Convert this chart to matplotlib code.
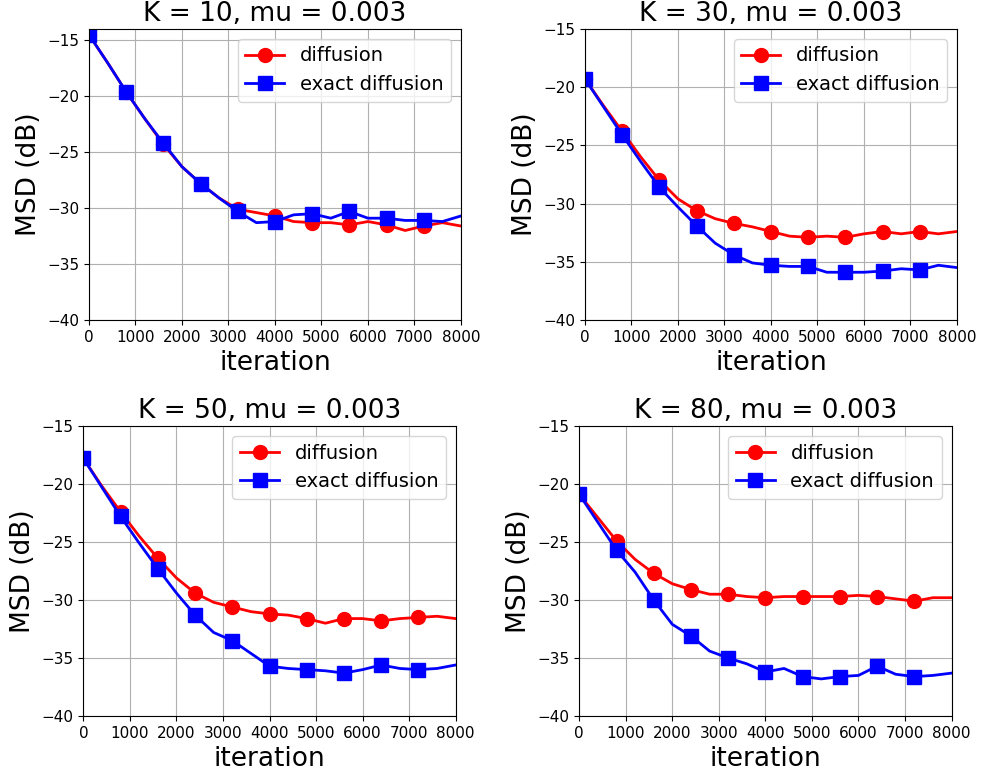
import numpy as np
import matplotlib
matplotlib.use("Agg")
import matplotlib.pyplot as plt

# iteration grid (markers every 800 iterations, last one at 7200)
iters = np.arange(0, 8001, 400)
mark_idx = list(range(0, 19, 2))

titles = ["K = 10, mu = 0.003", "K = 30, mu = 0.003",
          "K = 50, mu = 0.003", "K = 80, mu = 0.003"]

# ----- MSD (dB) -----
diff_k10 = [-14.5, -17.0, -19.6, -22.0, -24.3, -26.3, -27.8, -29.1, -30.1, -30.4,
            -30.7, -31.2, -31.3, -31.3, -31.5, -31.2, -31.5, -32.0, -31.6, -31.3, -31.6]
exact_k10 = [-14.5, -17.0, -19.6, -22.0, -24.2, -26.3, -27.8, -29.1, -30.3, -31.3,
             -31.2, -30.6, -30.5, -30.9, -30.3, -30.9, -30.9, -31.1, -31.1, -31.2, -30.7]

diff_k30 = [-19.3, -21.6, -23.8, -26.0, -28.0, -29.6, -30.6, -31.3, -31.7, -32.0,
            -32.4, -32.8, -32.9, -32.8, -32.9, -32.6, -32.4, -32.6, -32.4, -32.6, -32.4]
exact_k30 = [-19.3, -21.7, -24.1, -26.4, -28.6, -30.3, -31.9, -33.4, -34.4, -35.1,
             -35.3, -35.4, -35.4, -35.9, -35.9, -35.9, -35.8, -35.6, -35.7, -35.3, -35.5]

diff_k50 = [-17.8, -20.2, -22.4, -24.5, -26.4, -28.1, -29.4, -30.2, -30.6, -31.0,
            -31.2, -31.3, -31.6, -32.0, -31.6, -31.6, -31.8, -31.6, -31.5, -31.4, -31.6]
exact_k50 = [-17.8, -20.3, -22.8, -25.1, -27.3, -29.4, -31.3, -32.8, -33.5, -34.6,
             -35.7, -35.9, -36.0, -36.1, -36.3, -36.0, -35.6, -35.9, -36.0, -35.9, -35.6]

diff_k80 = [-20.9, -22.9, -24.9, -26.5, -27.7, -28.6, -29.1, -29.5, -29.5, -29.7,
            -29.8, -29.7, -29.7, -29.7, -29.7, -29.6, -29.7, -29.9, -30.1, -29.8, -29.8]
exact_k80 = [-20.9, -23.3, -25.7, -27.6, -30.0, -32.1, -33.1, -34.4, -35.0, -35.5,
             -36.2, -35.9, -36.6, -36.8, -36.6, -36.5, -35.7, -36.4, -36.6, -36.5, -36.3]

series = [(diff_k10, exact_k10), (diff_k30, exact_k30),
          (diff_k50, exact_k50), (diff_k80, exact_k80)]
ytops = [-13.98, -15, -15, -15]

# axes boxes in figure fractions (left, bottom, width, height)
boxes = [(0.0907, 0.5866, 0.3792, 0.3760),
         (0.5963, 0.5866, 0.3792, 0.3760),
         (0.0850, 0.0749, 0.3795, 0.3747),
         (0.5905, 0.0749, 0.3795, 0.3747)]

fig = plt.figure(figsize=(9.81, 7.74), dpi=100)

for box, title, (d, e), ytop in zip(boxes, titles, series, ytops):
    ax = fig.add_axes(box)
    ax.plot(iters, d, "r-o", lw=2, ms=10, markevery=mark_idx, label="diffusion")
    ax.plot(iters, e, "b-s", lw=2, ms=10, markevery=mark_idx, label="exact diffusion")
    ax.set_xlim(0, 8000)
    ax.set_ylim(-40, ytop)
    ax.set_xticks(np.arange(0, 8001, 1000))
    ax.set_yticks(np.arange(-40, -14, 5))
    ax.tick_params(labelsize=11)
    ax.grid(True)
    ax.set_title(title, fontsize=19)
    ax.set_xlabel("iteration", fontsize=19)
    ax.set_ylabel("MSD (dB)", fontsize=19)
    ax.legend(loc="upper right", fontsize=14)

fig.savefig("out.png", dpi=100)
